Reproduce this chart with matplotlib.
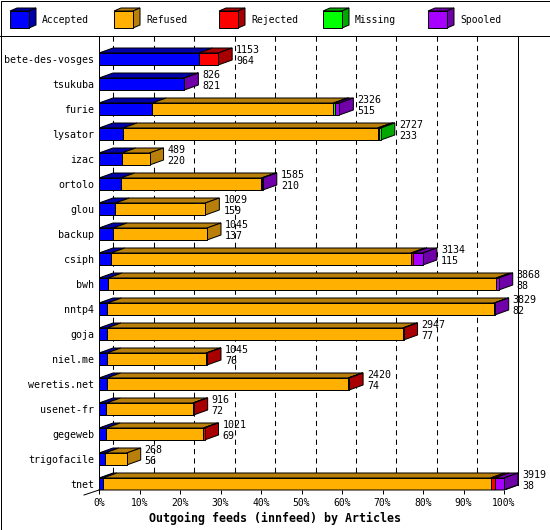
import matplotlib
matplotlib.use("Agg")
import matplotlib.pyplot as plt
from matplotlib.patches import Polygon, Rectangle

plt.rcParams['font.family'] = ['DejaVu Sans Mono']

hosts = ["bete-des-vosges", "tsukuba", "furie", "lysator", "izac", "ortolo",
         "glou", "backup", "csiph", "bwh", "nntp4", "goja", "niel.me",
         "weretis.net", "usenet-fr", "gegeweb", "trigofacile", "tnet"]
offered = [1153, 826, 2326, 2727, 489, 1585, 1029, 1045, 3134, 3868, 3829,
           2947, 1045, 2420, 916, 1021, 268, 3919]
accepted = [964, 821, 515, 233, 220, 210, 159, 137, 115, 88, 82, 77, 76, 74,
            72, 69, 56, 38]
refused = [0, 0, 1754, 2464, 269, 1362, 870, 908, 2904, 3755, 3742, 2862,
           961, 2336, 836, 942, 212, 3751]
rejected = [189, 0, 0, 15, 0, 0, 0, 0, 20, 0, 0, 8, 8, 10, 8, 10, 0, 40]
missing = [0, 0, 12, 15, 0, 10, 0, 0, 0, 0, 0, 0, 0, 0, 0, 0, 0, 0]
spooled = [0, 5, 45, 0, 0, 3, 0, 0, 95, 25, 5, 0, 0, 0, 0, 0, 0, 90]

series = ["Accepted", "Refused", "Rejected", "Missing", "Spooled"]
front_col = ["#0000ff", "#ffb000", "#ff0000", "#00ff00", "#a800ff"]
dark_col = ["#0000a8", "#b8800a", "#a80000", "#00a800", "#7000a8"]
values = [accepted, refused, rejected, missing, spooled]

W, H = 550, 530
PX = 4.05          # pixels per percent
DX = 14 / PX       # depth in x (percent)
DY = 5 / 25        # depth in y (rows)
BH = 12 / 25       # bar height (rows)
LW = 0.72

fig = plt.figure(figsize=(W / 100, H / 100), dpi=100)
ax = fig.add_axes([99 / W, (H - 490) / H, 420 / W, (490 - 36) / H])
ytop, ybot = (36 - 59) / 25, (490 - 59) / 25
ax.set_xlim(0, 420 / PX)
ax.set_ylim(ybot, ytop)
for s in ax.spines.values():
    s.set_visible(False)

total_max = max(offered)

# back plane grid
for p in range(0, 100, 10):
    ax.plot([p + DX, p + DX], [ytop, ybot - DY], color="black", lw=0.75,
            linestyle=(0, (5, 4)), zorder=1, clip_on=False)
ax.plot([100 + DX, 100 + DX], [ytop, ybot - DY], color="black", lw=LW, zorder=1,
        clip_on=False)
# floor / axes
ax.plot([0, 0], [ytop, ybot], color="black", lw=LW, zorder=5, clip_on=False)
ax.plot([0, 100, 100 + DX], [ybot, ybot, ybot - DY], color="black", lw=LW,
        zorder=5, clip_on=False)
ax.plot([0, -15 / PX], [ybot, ybot + DY], color="black", lw=LW, zorder=5,
        clip_on=False)

for i, host in enumerate(hosts):
    yt = i - BH / 2
    yb = i + BH / 2
    x0 = 0.0
    last = 0
    for k in range(len(series)):
        v = values[k][i]
        if v <= 0:
            continue
        w = v * 100.0 / total_max
        x1 = x0 + w
        ax.add_patch(Polygon([(x0, yt), (x1, yt), (x1 + DX, yt - DY), (x0 + DX, yt - DY)],
                             closed=True, facecolor=dark_col[k], edgecolor="black",
                             lw=LW, zorder=3))
        ax.add_patch(Rectangle((x0, yt), w, BH, facecolor=front_col[k],
                               edgecolor="black", lw=LW, zorder=4))
        x0 = x1
        last = k
    ax.add_patch(Polygon([(x0, yt), (x0 + DX, yt - DY), (x0 + DX, yb - DY), (x0, yb)],
                         closed=True, facecolor=dark_col[last], edgecolor="black",
                         lw=LW, zorder=3))
    xt = x0 + DX + 4 / PX
    ax.text(xt, i - 0.36, str(offered[i]), fontsize=7.2, ha="left", va="center", zorder=6)
    ax.text(xt, i + 0.08, str(accepted[i]), fontsize=7.2, ha="left", va="center", zorder=6)

ax.set_yticks(range(len(hosts)))
ax.set_yticklabels(hosts, fontsize=7.2)
ax.tick_params(axis="y", length=0, pad=3.6)
ax.set_xticks(range(0, 101, 10))
ax.set_xticklabels([f"{p}%" for p in range(0, 101, 10)], fontsize=7)
ax.tick_params(axis="x", length=3, width=LW, direction="out", pad=2.5)

fig.text(0.5, 1 - 518 / H, "Outgoing feeds (innfeed) by Articles", fontsize=8.4,
         fontweight="bold", ha="center", va="center")

# legend and frame
lax = fig.add_axes([0, 0, 1, 1])
lax.set_xlim(0, W)
lax.set_ylim(H, 0)
lax.axis("off")
leg_x = [10, 114, 219, 323, 428]
for k, name in enumerate(series):
    x = leg_x[k]
    lax.add_patch(Polygon([(x, 11), (x + 19, 11), (x + 26, 8), (x + 7, 8)], closed=True,
                          facecolor=dark_col[k], edgecolor="black", lw=LW))
    lax.add_patch(Polygon([(x + 19, 11), (x + 26, 8), (x + 26, 25), (x + 19, 28)],
                          closed=True, facecolor=dark_col[k], edgecolor="black", lw=LW))
    lax.add_patch(Rectangle((x, 11), 19, 17, facecolor=front_col[k], edgecolor="black",
                            lw=LW))
    lax.text(x + 32, 20, name, fontsize=7, ha="left", va="center")
lax.plot([0, W], [35.5, 35.5], color="black", lw=LW)
lax.add_patch(Rectangle((0.5, 0.5), W - 1, H - 1, fill=False, edgecolor="black", lw=LW))

fig.savefig("out.png", dpi=100)
